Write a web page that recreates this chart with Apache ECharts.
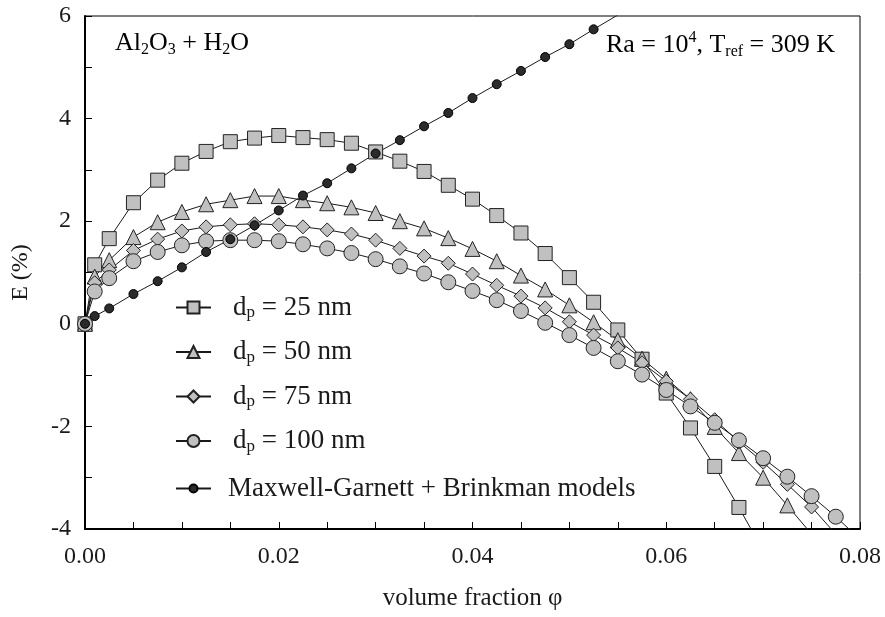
<!DOCTYPE html>
<html>
<head>
<meta charset="utf-8">
<script src="https://cdn.jsdelivr.net/npm/echarts@6.0.0/dist/echarts.min.js"></script>
<style>
  html, body { margin: 0; padding: 0; background: #fff; }
  #chart { width: 885px; height: 617px; }
</style>
</head>
<body>
<div id="chart"></div>
<script>
// volume fraction (x) shared by every series
const phi = [0, 0.001, 0.0025, 0.005, 0.0075, 0.01, 0.0125, 0.015, 0.0175, 0.02,
  0.0225, 0.025, 0.0275, 0.03, 0.0325, 0.035, 0.0375, 0.04, 0.0425, 0.045,
  0.0475, 0.05, 0.0525, 0.055, 0.0575, 0.06, 0.0625, 0.065, 0.0675, 0.07,
  0.0725, 0.075, 0.0775, 0.08];

// E (%), one list per particle size
const e25 = [0, 1.15, 1.66, 2.36, 2.80, 3.13, 3.36, 3.55, 3.62, 3.67, 3.63, 3.59, 3.52, 3.35,
  3.17, 2.97, 2.70, 2.43, 2.11, 1.77, 1.37, 0.90, 0.42, -0.12, -0.69, -1.35, -2.03, -2.78, -3.58, -4.42];
const e50 = [0, 0.92, 1.24, 1.69, 1.98, 2.18, 2.33, 2.41, 2.49, 2.49, 2.41, 2.35, 2.27, 2.16,
  2.00, 1.86, 1.67, 1.46, 1.22, 0.94, 0.67, 0.36, 0.03, -0.32, -0.68, -1.07, -1.47, -2.01, -2.52, -3.00, -3.54, -4.10];
const e75 = [0, 0.80, 1.05, 1.43, 1.65, 1.81, 1.89, 1.93, 1.95, 1.93, 1.89, 1.83, 1.75, 1.63,
  1.47, 1.32, 1.18, 0.97, 0.75, 0.54, 0.31, 0.04, -0.22, -0.47, -0.76, -1.12, -1.47, -1.87, -2.30, -2.70, -3.13, -3.57, -4.10];
const e100 = [0, 0.63, 0.89, 1.22, 1.40, 1.53, 1.61, 1.63, 1.63, 1.61, 1.55, 1.47, 1.38, 1.26,
  1.12, 0.98, 0.81, 0.64, 0.46, 0.25, 0.02, -0.22, -0.47, -0.73, -0.99, -1.29, -1.61, -1.93, -2.27, -2.62, -2.98, -3.36, -3.76, -4.20];
const eMG = [0, 0.15, 0.30, 0.58, 0.83, 1.10, 1.40, 1.65, 1.92, 2.21, 2.50, 2.74, 3.03, 3.32,
  3.58, 3.85, 4.11, 4.40, 4.67, 4.93, 5.20, 5.45, 5.74, 6.02];

const names = ['dp = 25 nm', 'dp = 50 nm', 'dp = 75 nm', 'dp = 100 nm', 'Maxwell-Garnett + Brinkman models'];

const FONT = 'Liberation Serif';
const INK = '#1a1a1a';

function pairs(vals) {
  return vals.map((v, i) => [phi[i], v]);
}

function dataSeries(name, vals, symbol, size) {
  return {
    name: name,
    type: 'line',
    data: pairs(vals),
    symbol: symbol,
    symbolSize: size,
    showAllSymbol: true,
    clip: true,
    lineStyle: { color: INK, width: 1 },
    itemStyle: { color: '#c0c0c0', borderColor: '#222', borderWidth: 1 },
    emphasis: { disabled: true }
  };
}

const legendRich = {
  n: { fontFamily: FONT, fontSize: 27, lineHeight: 28, color: INK },
  s: { fontFamily: FONT, fontSize: 17, lineHeight: 14, verticalAlign: 'bottom', color: INK }
};
function legendText(name) {
  if (name.indexOf('dp') === 0) return '{n|d}{s|p}{n|' + name.slice(2) + '}';
  return '{n|' + name + '}';
}

const noteRich = {
  n: { fontFamily: FONT, fontSize: 26, lineHeight: 30, color: INK },
  b: { fontFamily: FONT, fontSize: 16, lineHeight: 16, verticalAlign: 'bottom', color: INK },
  t: { fontFamily: FONT, fontSize: 16, lineHeight: 16, verticalAlign: 'top', color: INK }
};

const chart = echarts.init(document.getElementById('chart'), null, { renderer: 'canvas' });

const mg = dataSeries(names[4], eMG, 'circle', 9);
mg.itemStyle = { color: '#2b2b2b', borderColor: '#000', borderWidth: 1 };

chart.setOption({
  animation: false,
  backgroundColor: '#fff',
  grid: { left: 85, right: 25, top: 16, bottom: 88, show: true, borderColor: '#000', borderWidth: 1, backgroundColor: 'transparent' },
  xAxis: {
    type: 'value', min: 0, max: 0.08, interval: 0.02,
    name: 'volume fraction φ', nameLocation: 'middle', nameGap: 57,
    nameTextStyle: { fontFamily: FONT, fontSize: 25, color: INK },
    axisLine: { show: true, onZero: false, lineStyle: { color: '#000', width: 2 } },
    axisTick: { show: true, inside: true, length: 7, lineStyle: { color: '#000', width: 1 } },
    minorTick: { show: true, splitNumber: 4, length: 7, lineStyle: { color: '#000', width: 1 } },
    splitLine: { show: false },
    axisLabel: { fontFamily: FONT, fontSize: 24, color: INK, margin: 16, formatter: v => v.toFixed(2) }
  },
  yAxis: {
    type: 'value', min: -4, max: 6, interval: 2,
    name: 'E (%)', nameLocation: 'middle', nameGap: 52,
    nameTextStyle: { fontFamily: FONT, fontSize: 24, color: INK },
    axisLine: { show: true, onZero: false, lineStyle: { color: '#000', width: 2 } },
    axisTick: { show: true, inside: true, length: 7, lineStyle: { color: '#000', width: 1 } },
    minorTick: { show: true, splitNumber: 2, length: 7, lineStyle: { color: '#000', width: 1 } },
    splitLine: { show: false },
    axisLabel: { fontFamily: FONT, fontSize: 24, color: INK, margin: 14 }
  },
  legend: [{
    data: names.slice(0, 4),
    orient: 'vertical', left: 175, top: 294, padding: 0,
    itemWidth: 35, itemHeight: 15, itemGap: 17,
    selectedMode: false,
    formatter: legendText,
    textStyle: { padding: [0, 0, 0, 17], rich: legendRich }
  }, {
    data: [names[4]],
    orient: 'vertical', left: 175, top: 475, padding: 0,
    itemWidth: 35, itemHeight: 10,
    selectedMode: false,
    formatter: legendText,
    textStyle: { padding: [0, 0, 0, 12], rich: legendRich }
  }],
  graphic: [{
    type: 'text', left: 115, top: 30,
    style: { text: '{n|Al}{b|2}{n|O}{b|3}{n| + H}{b|2}{n|O}', rich: noteRich }
  }, {
    type: 'text', right: 50, top: 30,
    style: { text: '{n|Ra = 10}{t|4}{n|, T}{b|ref}{n| = 309 K}', rich: noteRich }
  }],
  series: [
    dataSeries(names[0], e25, 'rect', 14),
    dataSeries(names[1], e50, 'triangle', 15),
    dataSeries(names[2], e75, 'diamond', 14),
    dataSeries(names[3], e100, 'circle', 15),
    mg
  ]
});
</script>
</body>
</html>
